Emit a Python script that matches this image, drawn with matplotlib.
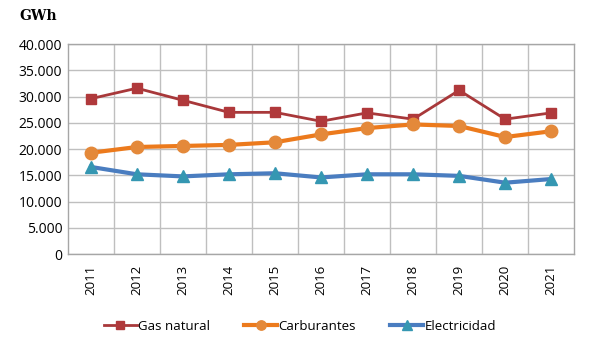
import matplotlib
matplotlib.use("Agg")
import matplotlib.pyplot as plt
from matplotlib.ticker import FuncFormatter, MultipleLocator

years = ["2011", "2012", "2013", "2014", "2015", "2016", "2017", "2018", "2019", "2020", "2021"]
gas_natural = [29600, 31600, 29300, 27000, 27000, 25300, 26900, 25700, 31200, 25700, 26900]
carburantes = [19300, 20400, 20600, 20800, 21300, 22800, 24000, 24700, 24400, 22300, 23400]
electricidad = [16600, 15200, 14800, 15200, 15400, 14600, 15200, 15200, 14900, 13600, 14300]

plt.rcParams['font.family'] = ['Open Sans', 'DejaVu Sans']

fig = plt.figure(figsize=(6, 3.5), dpi=100)
ax = fig.add_axes([0.113, 0.274, 0.844, 0.60])

x = list(range(len(years)))
ax.plot(x, gas_natural, color="#A8383A", lw=2, marker="s", ms=7, mfc="#B0393B", mec="#B0393B", label="Gas natural", zorder=3)
ax.plot(x, carburantes, color="#EC7A1C", lw=3, marker="o", ms=9, mfc="#E4893A", mec="#E4893A", label="Carburantes", zorder=3)
ax.plot(x, electricidad, color="#4A7DC0", lw=3, marker="^", ms=9, mfc="#3597B2", mec="#3597B2", label="Electricidad", zorder=3)

ax.set_xlim(-0.5, len(years) - 0.5)
ax.set_ylim(0, 40000)
ax.yaxis.set_major_locator(MultipleLocator(5000))
ax.yaxis.set_major_formatter(FuncFormatter(lambda v, p: f"{int(v):,}".replace(",", ".")))
ax.set_xticks(x)
ax.set_xticklabels(years, rotation=90, fontsize=9.5)
ax.set_xticks([i + 0.5 for i in x[:-1]], minor=True)
ax.tick_params(axis="x", which="both", length=0, pad=8)
ax.tick_params(axis="y", length=0, labelsize=10, pad=4)
ax.grid(True, axis="y", color="#BFBFBF", lw=1)
ax.grid(True, axis="x", which="minor", color="#BFBFBF", lw=1)
ax.grid(False, axis="x", which="major")
ax.set_axisbelow(True)
for s in ax.spines.values():
    s.set_color("#A6A6A6")
    s.set_linewidth(1)

fig.text(0.033, 0.955, "GWh", fontsize=10, fontweight="bold", family="DejaVu Serif", va="center")

fig.legend(loc="center", bbox_to_anchor=(0.5, 0.068), ncol=3, frameon=False, fontsize=9.5,
           handlelength=2.5, columnspacing=2.6, handletextpad=0.1, markerscale=0.75)

fig.savefig("out.png", dpi=100)
